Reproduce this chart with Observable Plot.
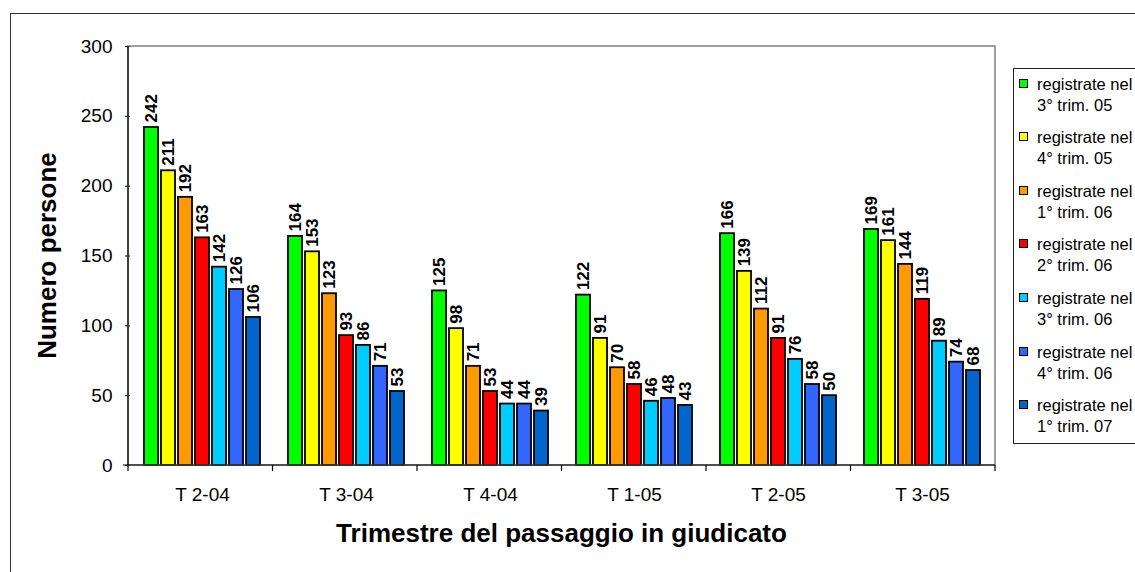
<!DOCTYPE html>
<html><head><meta charset="utf-8">
<script src="https://cdn.jsdelivr.net/npm/d3@7"></script>
<script src="https://cdn.jsdelivr.net/npm/@observablehq/plot@0.6"></script>
<style>
html,body{margin:0;padding:0;background:#fff;overflow:hidden;width:1135px;height:572px;}
#wrap{position:relative;width:1135px;height:572px;overflow:hidden;font-family:"Liberation Sans",Arial,sans-serif;}
#border{position:absolute;left:10px;top:13px;width:1200px;height:700px;border:1.5px solid #333;}
#chart{position:absolute;left:0;top:0;}
#chart svg{background:transparent;}
#legend{position:absolute;left:1013px;top:68px;width:170px;height:374px;border:1px solid #222;background:#fff;}
.item{position:absolute;left:0;}
.sw{position:absolute;left:5px;top:5px;width:7px;height:7px;border:1px solid #000;}
.lab{position:absolute;left:23px;top:0;font-size:16.5px;line-height:21px;white-space:nowrap;color:#000;}
</style></head><body>
<div id="wrap"><div id="border"></div><div id="chart"></div><div id="legend"></div></div>
<script>
const categories = ["T 2-04", "T 3-04", "T 4-04", "T 1-05", "T 2-05", "T 3-05"];
const series = [
  "registrate nel 3° trim. 05",
  "registrate nel 4° trim. 05",
  "registrate nel 1° trim. 06",
  "registrate nel 2° trim. 06",
  "registrate nel 3° trim. 06",
  "registrate nel 4° trim. 06",
  "registrate nel 1° trim. 07"
];
const colors = ["#00FF00", "#FFFF00", "#FF9900", "#FF0000", "#00CCFF", "#3366FF", "#0066CC"];
// values[category][series]
const values = [
  [242, 211, 192, 163, 142, 126, 106],
  [164, 153, 123, 93, 86, 71, 53],
  [125, 98, 71, 53, 44, 44, 39],
  [122, 91, 70, 58, 46, 48, 43],
  [166, 139, 112, 91, 76, 58, 50],
  [169, 161, 144, 119, 89, 74, 68]
];
const yTicks = [0, 50, 100, 150, 200, 250, 300];
const yTitle = "Numero persone";
const xTitle = "Trimestre del passaggio in giudicato";

const data = [];
categories.forEach((c, i) => series.forEach((s, j) => data.push({cat: c, ser: s, value: values[i][j]})));

const chart = Plot.plot({
  width: 1135,
  height: 572,
  marginTop: 46,
  marginBottom: 107,
  marginLeft: 128,
  marginRight: 140,
  style: {fontFamily: "'Liberation Sans', Arial, sans-serif", fontSize: "19px", color: "#000", background: "transparent"},
  fx: {domain: categories, padding: 0, label: null, axis: "bottom", tickSize: 0, tickPadding: 22},
  x: {domain: series, paddingInner: 0.17, paddingOuter: 0.6, axis: null},
  y: {domain: [0, 300], ticks: yTicks, tickSize: 5, tickPadding: 13, label: null},
  color: {domain: series, range: colors},
  marks: [
    Plot.barY(data, {fx: "cat", x: "ser", y: "value", fill: "ser", stroke: "#000", strokeWidth: 1.8}),
    Plot.text(data, {fx: "cat", x: "ser", y: "value", text: d => String(d.value), rotate: -90, textAnchor: "start", dy: -5, fontWeight: "bold", fontSize: 17, fill: "#000"})
  ]
});
document.getElementById("chart").appendChild(chart);

// axis frame, boundary ticks and titles from the library's scales
const svg = d3.select(chart);
const fxs = chart.scale("fx");
const ys = chart.scale("y");
const band = d3.scaleBand().domain(fxs.domain).range(fxs.range).paddingInner(fxs.paddingInner || 0).paddingOuter(fxs.paddingOuter || 0).align(fxs.align == null ? 0.5 : fxs.align);
const yl = d3.scaleLinear().domain(ys.domain).range(ys.range);
const x0 = fxs.range[0], x1 = fxs.range[1];
const yb = yl(0), yt = yl(300);
svg.append("rect").attr("x", x0).attr("y", yt).attr("width", x1 - x0).attr("height", yb - yt)
  .attr("fill", "none").attr("stroke", "#808080").attr("stroke-width", 1.5);
svg.append("line").attr("x1", x0).attr("x2", x0).attr("y1", yt).attr("y2", yb).attr("stroke", "#000").attr("stroke-width", 1.2);
svg.append("line").attr("x1", x0 - 5).attr("x2", x1).attr("y1", yb).attr("y2", yb).attr("stroke", "#000").attr("stroke-width", 1.2);
for (let i = 0; i <= categories.length; i++) {
  const xb = band(categories[0]) + i * band.step();
  svg.append("line").attr("x1", xb).attr("x2", xb).attr("y1", yb).attr("y2", yb + 6).attr("stroke", "#000").attr("stroke-width", 1.2);
}
svg.append("text").attr("transform", `translate(47,${(yb + yt) / 2}) rotate(-90)`).attr("text-anchor", "middle").attr("dy", "0.35em")
  .attr("font-weight", "bold").attr("font-size", 26).attr("fill", "#000").text(yTitle);
svg.append("text").attr("x", (x0 + x1) / 2).attr("y", 542).attr("text-anchor", "middle")
  .attr("font-weight", "bold").attr("font-size", 26).attr("fill", "#000").text(xTitle);

// legend
const legend = d3.select("#legend");
series.forEach((s, i) => {
  const item = legend.append("div").attr("class", "item").style("top", (4.5 + i * 53.6) + "px");
  item.append("div").attr("class", "sw").style("background", colors[i]);
  const parts = s.split("nel ");
  item.append("div").attr("class", "lab").html(parts[0] + "nel<br>" + parts[1]);
});
</script>
</body></html>
